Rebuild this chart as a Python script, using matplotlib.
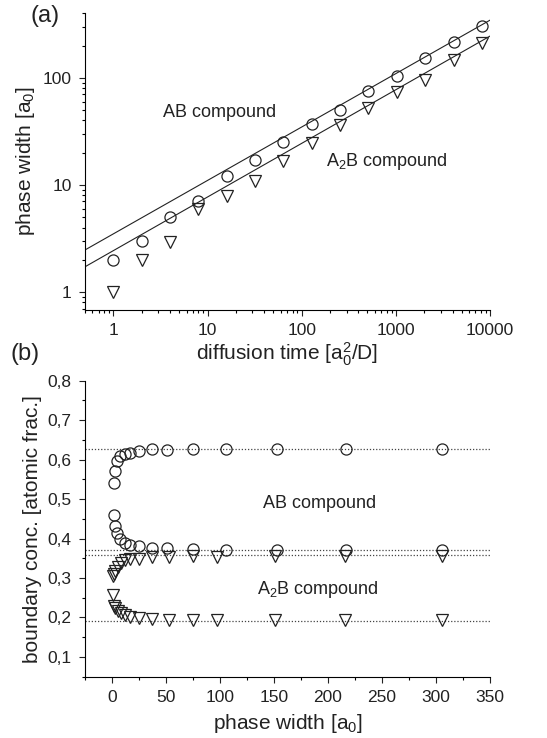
import matplotlib
matplotlib.use('Agg')
import matplotlib.pyplot as plt
from matplotlib.ticker import FixedLocator, MultipleLocator, NullFormatter, FuncFormatter, LogLocator

plt.rcParams['font.family'] = ['Liberation Sans', 'DejaVu Sans']
plt.rcParams['mathtext.fontset'] = 'custom'
plt.rcParams['mathtext.rm'] = 'Liberation Sans'
plt.rcParams['mathtext.it'] = 'Liberation Sans:italic'

# (a) phase width vs diffusion time
time = [1, 2, 4, 8, 16, 32, 64, 128, 256, 512, 1024, 2048, 4096, 8192]
width_ab = [2.0, 3.0, 5.0, 7.0, 12, 17, 25, 37, 50, 75, 105, 152, 214, 302]
width_a2b = [1.0, 2.0, 2.95, 5.9, 7.9, 10.8, 16.6, 24.5, 36, 52, 74, 95, 146, 210]
# fitted parabolic-growth lines (end points)
fit_time = [0.5, 10000]
fit_ab = [2.47, 345]
fit_a2b = [1.72, 245]

# (b) boundary concentrations vs phase width
pw_ab = [2, 3, 5, 7, 12, 17, 25, 37, 51, 75, 106, 153, 217, 306]
c_ab_hi = [0.540, 0.571, 0.597, 0.608, 0.614, 0.618, 0.622, 0.627, 0.624, 0.627, 0.627, 0.627, 0.627, 0.627]
c_ab_lo = [0.460, 0.432, 0.413, 0.399, 0.390, 0.384, 0.380, 0.377, 0.375, 0.374, 0.371, 0.371, 0.371, 0.371]
pw_a2b = [1, 2, 3, 6, 8, 12, 17, 25, 37, 53, 75, 97, 151, 216, 306]
c_a2b_hi = [0.304, 0.311, 0.319, 0.329, 0.339, 0.345, 0.347, 0.349, 0.353, 0.354, 0.355, 0.353, 0.355, 0.355, 0.355]
c_a2b_lo = [0.256, 0.229, 0.224, 0.217, 0.212, 0.207, 0.202, 0.199, 0.195, 0.194, 0.194, 0.194, 0.194, 0.194, 0.194]
limits = [0.628, 0.371, 0.358, 0.192]

fig = plt.figure(figsize=(5.47, 7.38), dpi=100)
ax1 = fig.add_axes([0.1554, 0.580, 0.7404, 0.402])
ax2 = fig.add_axes([0.1554, 0.0831, 0.7404, 0.401])

mk = dict(linestyle='none', markerfacecolor='none', markeredgecolor='#222222',
          markeredgewidth=0.9, markersize=8)

for ax in (ax1, ax2):
    ax.spines['top'].set_visible(False)
    ax.spines['right'].set_visible(False)
    ax.spines['left'].set_linewidth(0.8)
    ax.spines['bottom'].set_linewidth(0.8)
    ax.tick_params(which='major', direction='out', length=4.5, width=0.8, pad=5,
                   labelsize=12.5, colors='#222222')
    ax.tick_params(which='minor', direction='out', length=2.5, width=0.8)

# panel (a)
ax1.plot(fit_time, fit_ab, color='#222222', lw=0.8)
ax1.plot(fit_time, fit_a2b, color='#222222', lw=0.8)
ax1.plot(time, width_ab, marker='o', **mk)
ax1.plot(time, width_a2b, marker='v', **mk)
ax1.set_xscale('log')
ax1.set_yscale('log')
ax1.set_xlim(0.5, 10000)
ax1.set_ylim(0.68, 400)
ax1.xaxis.set_major_locator(FixedLocator([1, 10, 100, 1000, 10000]))
ax1.yaxis.set_major_locator(FixedLocator([1, 10, 100]))
ax1.xaxis.set_major_formatter(FuncFormatter(lambda v, p: f"{v:g}"))
ax1.yaxis.set_major_formatter(FuncFormatter(lambda v, p: f"{v:g}"))
ax1.xaxis.set_minor_locator(LogLocator(base=10, subs=range(2, 10)))
ax1.yaxis.set_minor_locator(LogLocator(base=10, subs=range(2, 10)))
ax1.xaxis.set_minor_formatter(NullFormatter())
ax1.yaxis.set_minor_formatter(NullFormatter())
ax1.set_xlabel(r'diffusion time [$\mathregular{a_0^2}$/D]', fontsize=15, color='#222222', labelpad=2)
ax1.set_ylabel(r'phase width [$\mathregular{a_0}$]', fontsize=15, color='#222222', labelpad=4)
ax1.text(13.4, 47, 'AB compound', fontsize=13, ha='center', va='center', color='#222222')
ax1.text(811, 16.4, r'$\mathregular{A_2}$B compound', fontsize=13, ha='center', va='center', color='#222222')

# panel (b)
for lvl in limits:
    ax2.axhline(lvl, color='#444444', lw=0.9, linestyle=(0, (1, 1.5)))
ax2.plot(pw_ab, c_ab_hi, marker='o', **mk)
ax2.plot(pw_ab, c_ab_lo, marker='o', **mk)
ax2.plot(pw_a2b, c_a2b_hi, marker='v', **mk)
ax2.plot(pw_a2b, c_a2b_lo, marker='v', **mk)
ax2.set_xlim(-25, 350)
ax2.set_ylim(0.05, 0.8)
ax2.xaxis.set_major_locator(MultipleLocator(50))
ax2.xaxis.set_minor_locator(MultipleLocator(25))
ax2.yaxis.set_major_locator(FixedLocator([0.1, 0.2, 0.3, 0.4, 0.5, 0.6, 0.7, 0.8]))
ax2.yaxis.set_minor_locator(MultipleLocator(0.05))
ax2.yaxis.set_major_formatter(FuncFormatter(lambda v, p: f"{v:.1f}".replace('.', ',')))
ax2.set_xlabel(r'phase width [$\mathregular{a_0}$]', fontsize=15, color='#222222', labelpad=5)
ax2.set_ylabel('boundary conc. [atomic frac.]', fontsize=15, color='#222222')
ax2.text(192, 0.49, 'AB compound', fontsize=13, ha='center', va='center', color='#222222')
ax2.text(191, 0.27, r'$\mathregular{A_2}$B compound', fontsize=13, ha='center', va='center', color='#222222')

fig.text(0.082, 0.978, '(a)', fontsize=17, ha='center', va='center', color='#222222')
fig.text(0.046, 0.521, '(b)', fontsize=17, ha='center', va='center', color='#222222')

fig.savefig('out.png', dpi=100)
